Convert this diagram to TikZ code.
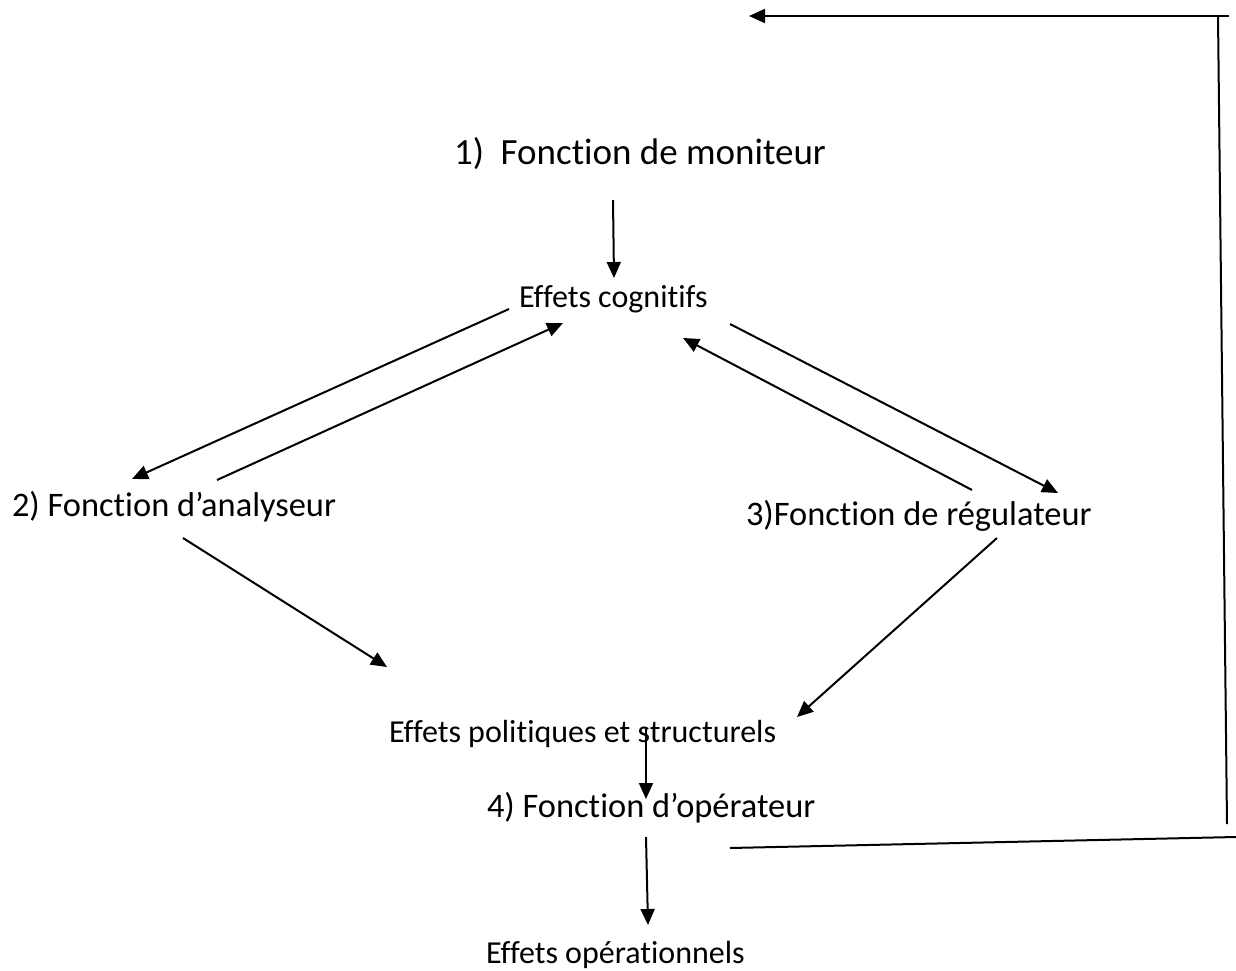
\documentclass[tikz,border=0pt]{standalone}
\usepackage{fontspec}
\setmainfont[Ligatures=NoCommon]{Carlito}
\usetikzlibrary{calc,arrows.meta,positioning}

\begin{document}
\begin{tikzpicture}[x=1bp,y=-1bp,inner sep=0pt,line width=2bp,
  >={Triangle[length=16bp,width=14bp]},
  fonct/.style={anchor=base west,font=\fontsize{34.4bp}{41bp}\selectfont},
  grand/.style={anchor=base west,font=\fontsize{37bp}{44bp}\selectfont},
  effet/.style={anchor=base west,font=\fontsize{32bp}{38bp}\selectfont}]
\useasboundingbox (0,0) rectangle (1236,971);

\node[grand] (mon) at (453,164) {1)\ \ Fonction de moniteur};
\node[effet] (cog) at (518,307) {Effets cognitifs};
\node[fonct] (ana) at (11,516) {2) Fonction d’analyseur};
\node[fonct] (reg) at (745,525) {3)Fonction de régulateur};
\node[effet] (pol) at (388,742) {Effets politiques et structurels};
\node[fonct] (ope) at (486,817) {4) Fonction d’opérateur};
\node[effet] (opl) at (485,963) {Effets opérationnels};

\draw[->] ($(mon.base west)+(160,36)$) -- ($(cog.base west)+(96,-29)$);
\draw[->] ($(cog.base west)+(-9,2)$) -- ($(ana.base west)+(121,-37)$);
\draw[->] ($(ana.base west)+(206,-36)$) -- ($(cog.base west)+(45,16)$);
\draw[->] ($(cog.base west)+(212,17)$) -- ($(reg.base west)+(313,-32)$);
\draw[->] ($(reg.base west)+(227,-35)$) -- ($(cog.base west)+(165,31)$);
\draw[->] ($(ana.base west)+(172,22)$) -- ($(pol.base west)+(-1,-75)$);
\draw[->] ($(reg.base west)+(252,13)$) -- ($(pol.base west)+(409,-25)$);
\draw[->] ($(pol.base west)+(258,-14)$) -- ($(ope.base west)+(160,-18)$);
\draw[->] ($(ope.base west)+(160,20)$) -- ($(opl.base west)+(163,-38)$);

% boucle de retour
\coordinate (bas) at (1236,837);
\coordinate (coinbas) at (1227,824);
\coordinate (coinhaut) at (1218,16);
\coordinate (droite) at (1229,16);
\coordinate (retour) at (749,16);
\draw ($(ope.base west)+(244,31)$) -- (bas);
\draw (coinbas) -- (coinhaut);
\draw[->] (droite) -- (retour);

\end{tikzpicture}
\end{document}
